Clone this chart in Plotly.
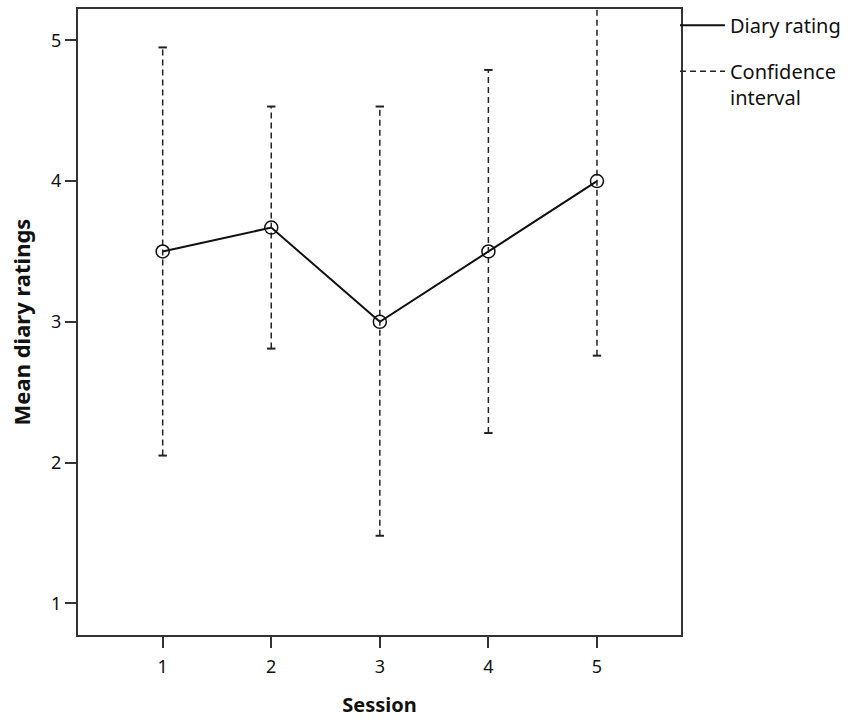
import plotly.graph_objects as go

sessions = [1, 2, 3, 4, 5]
mean_rating = [3.5, 3.67, 3.0, 3.5, 4.0]
ci_lower = [2.05, 2.81, 1.48, 2.21, 2.76]
ci_upper = [4.95, 4.53, 4.53, 4.79, 5.24]

x_ticks = [1, 2, 3, 4, 5]
y_ticks = [1, 2, 3, 4, 5]

FONT = "Noto Sans"
AX = "#333333"
TXT = "#111111"

ci_x, ci_y = [], []
for s, lo, hi in zip(sessions, ci_lower, ci_upper):
    ci_x += [s, s, None]
    ci_y += [lo, hi, None]

cap_x = sessions + sessions
cap_y = ci_lower + ci_upper

fig = go.Figure()
fig.add_trace(go.Scatter(
    x=sessions, y=mean_rating, mode="lines", name="Diary rating",
    legendgroup="a",
    line=dict(color="#111111", width=2), showlegend=True))
fig.add_trace(go.Scatter(
    x=ci_x, y=ci_y, mode="lines", name="Confidence<br>interval",
    legendgroup="b",
    line=dict(color="#222222", width=1.5, dash="6px,4px"), showlegend=True))
fig.add_trace(go.Scatter(
    x=cap_x, y=cap_y, mode="markers", showlegend=False, hoverinfo="skip",
    marker=dict(symbol="line-ew", size=6, line=dict(color="#222222", width=2))))
fig.add_trace(go.Scatter(
    x=sessions, y=mean_rating, mode="markers", showlegend=False,
    marker=dict(symbol="circle-open", size=13, color="#111111",
                line=dict(color="#111111", width=1.5))))

fig.update_layout(
    width=856, height=722,
    margin=dict(l=78, r=175, t=9, b=87, autoexpand=False),
    paper_bgcolor="white", plot_bgcolor="white",
    font=dict(family=FONT, size=18, color=TXT),
    legend=dict(x=0.99, xanchor="left", y=1.005, yanchor="top",
                font=dict(family=FONT, size=20, color=TXT),
                bgcolor="rgba(0,0,0,0)", valign="top",
                traceorder="grouped", tracegroupgap=17, itemwidth=45),
    xaxis=dict(range=[0.22, 5.774], tickvals=x_ticks,
               ticktext=[str(v) for v in x_ticks],
               showgrid=False, zeroline=False,
               showline=True, linecolor=AX, linewidth=2, mirror=True,
               ticks="outside", ticklen=11, tickwidth=2, tickcolor=AX,
               ticklabelstandoff=3,
               tickfont=dict(family=FONT, size=18, color=TXT),
               title=dict(text="<b>Session</b>", standoff=21,
                          font=dict(family=FONT, size=20, color=TXT))),
    yaxis=dict(range=[0.775, 5.223], tickvals=y_ticks,
               ticktext=[str(v) for v in y_ticks],
               showgrid=False, zeroline=False,
               showline=True, linecolor=AX, linewidth=2, mirror=True,
               ticks="outside", ticklen=11, tickwidth=2, tickcolor=AX,
               tickfont=dict(family=FONT, size=18, color=TXT),
               title=dict(text="<b>Mean diary ratings</b>", standoff=14,
                          font=dict(family=FONT, size=22, color=TXT))),
)

fig.write_html("out.html")
